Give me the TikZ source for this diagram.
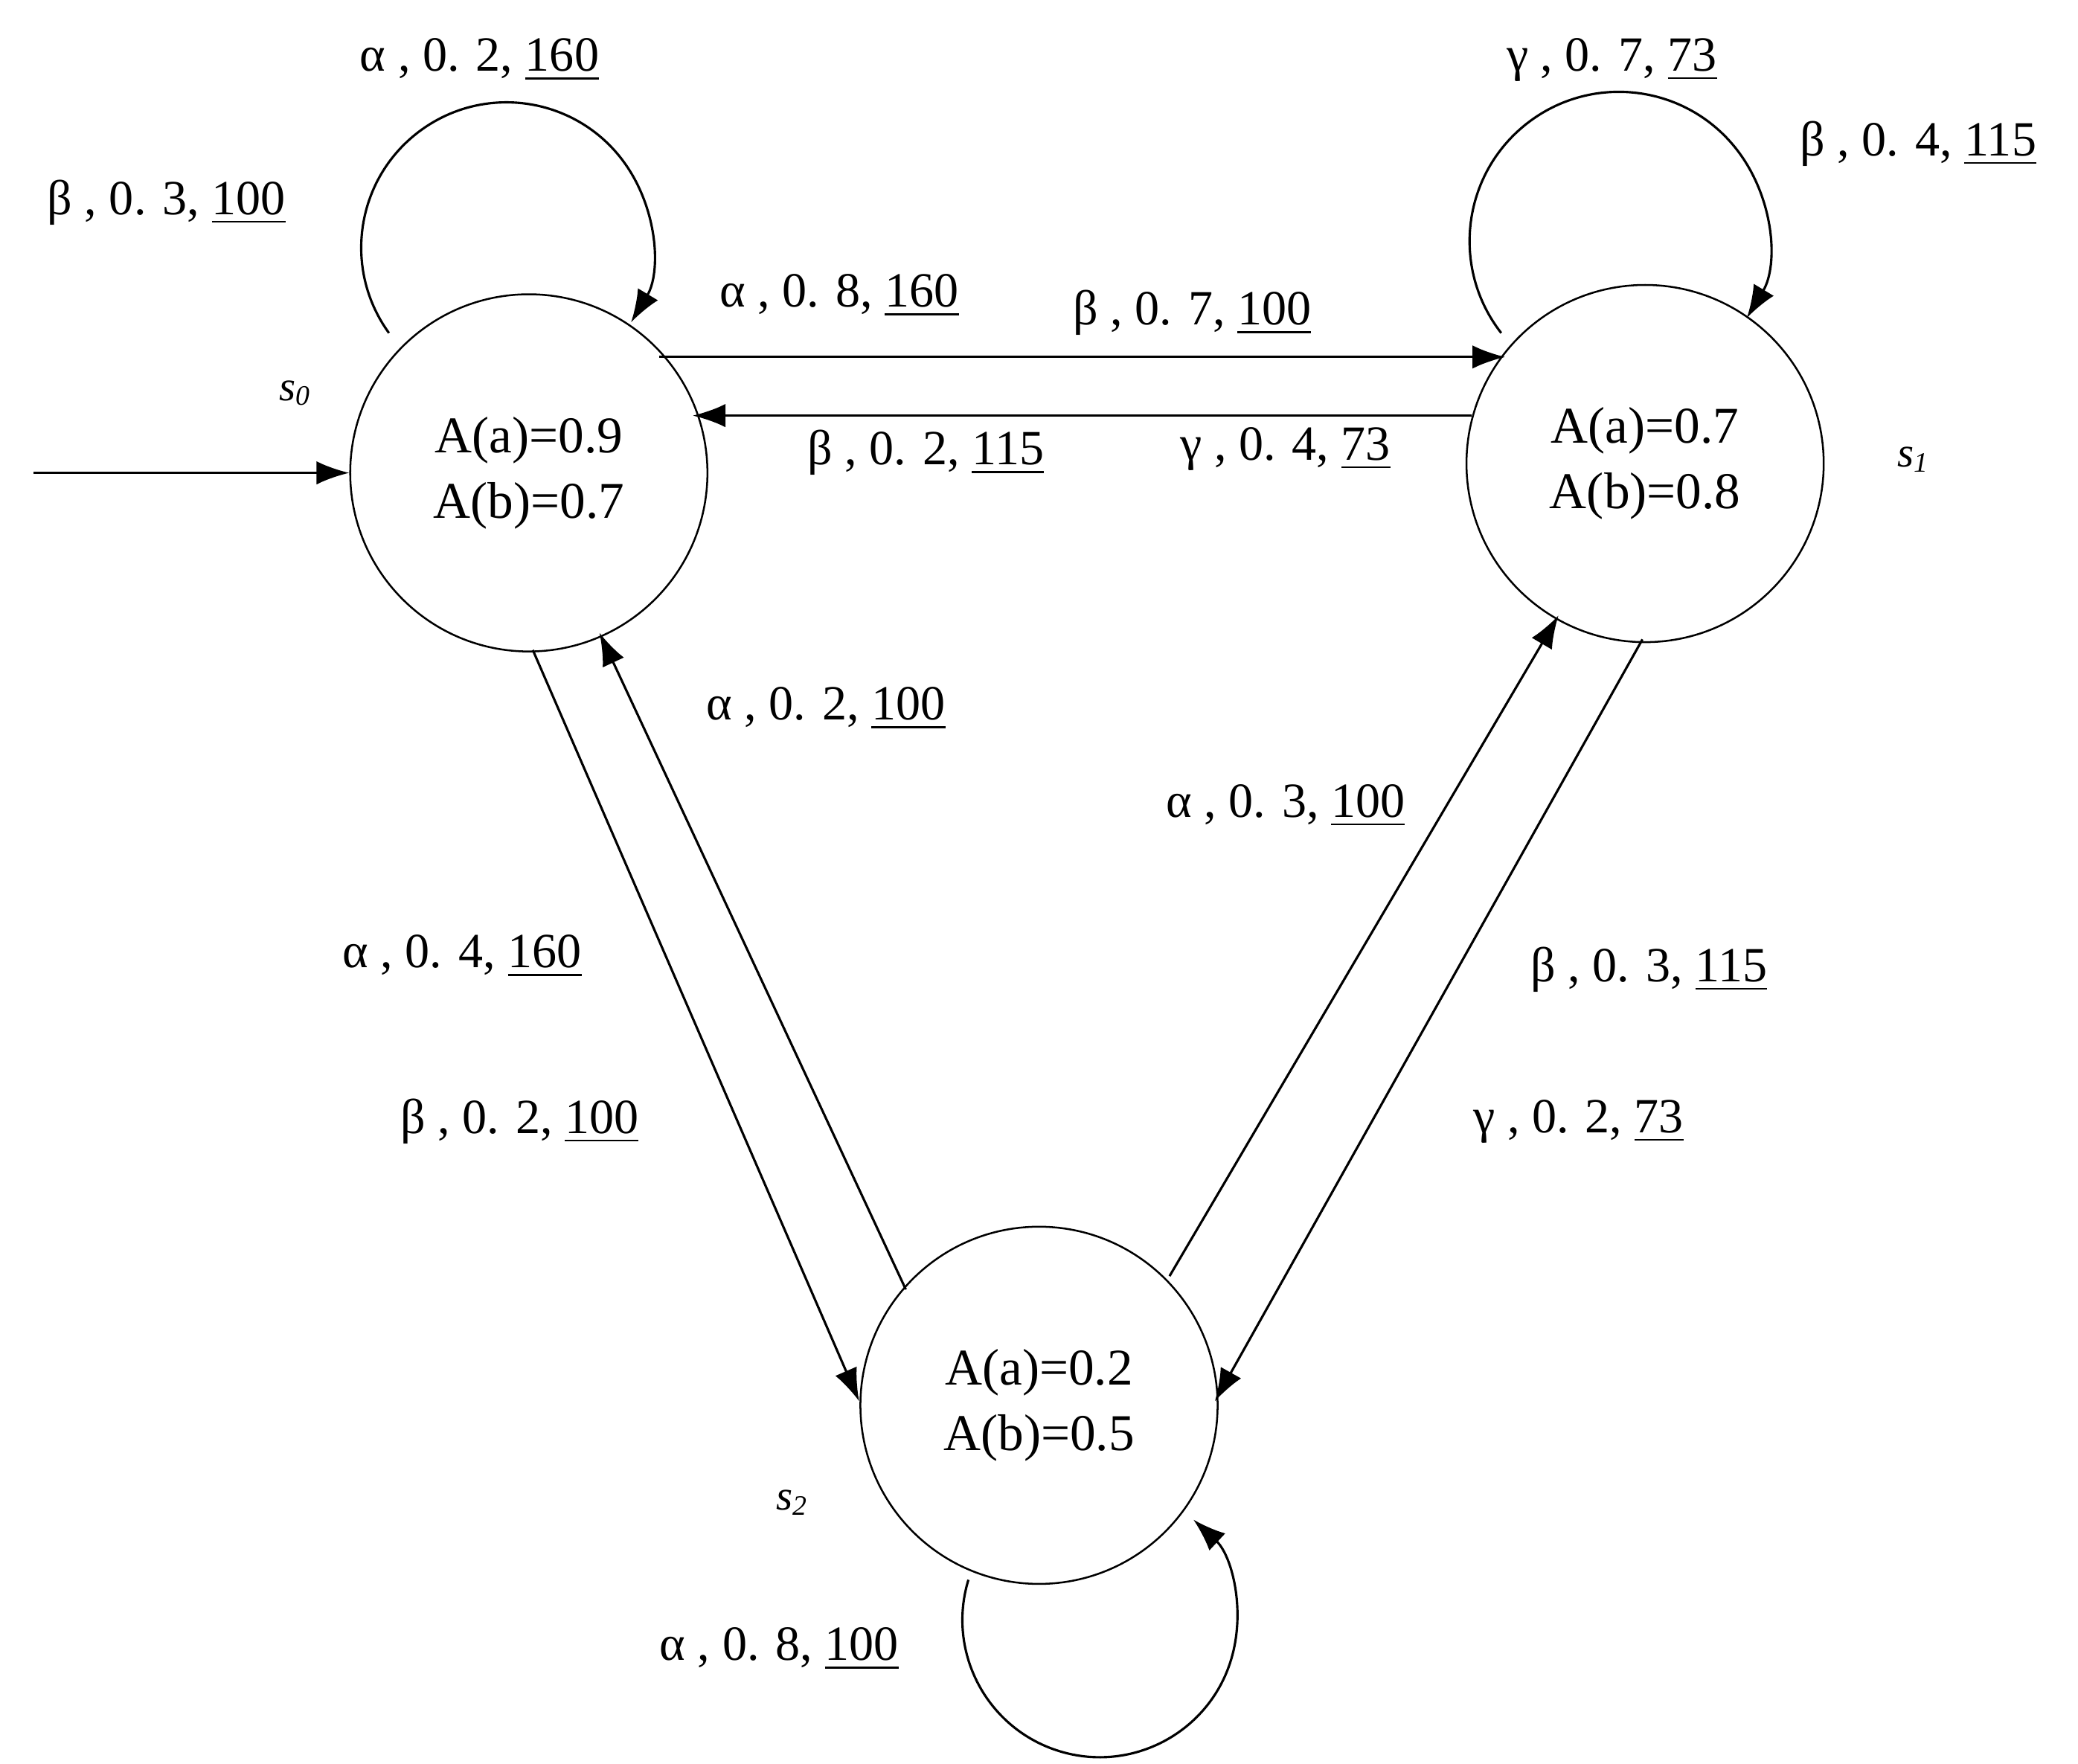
\documentclass[tikz,border=0pt]{standalone}
\usepackage{fontspec}
\setmainfont{Liberation Serif}
\usetikzlibrary{arrows.meta}
\begin{document}
\begin{tikzpicture}[x=0.01cm,y=-0.01cm,
  st/.style={draw,circle,minimum size=2.68cm,inner sep=0pt,align=center,font=\fontsize{11}{14}\selectfont},
  lb/.style={font=\fontsize{10.5}{12}\selectfont,inner sep=1pt},
  sl/.style={font=\itshape\fontsize{9}{10}\selectfont},
  ar/.style={-{Latex[length=7pt,width=5pt]},line width=0.5pt}]
\useasboundingbox (0,0) rectangle (1560,1324);
\node[st] (s0) at (397,355) {A(a)=0.9\\A(b)=0.7};
\node[st] (s1) at (1235,348) {A(a)=0.7\\A(b)=0.8};
\node[st] (s2) at (780,1055) {A(a)=0.2\\A(b)=0.5};
\node[sl] (l0) at (222,295) {s\textsubscript{0}};
\node[sl] (l1) at (1437,345) {s\textsubscript{1}};
\node[sl] (l2) at (595,1128) {s\textsubscript{2}};
\coordinate (init) at (25,355);
\draw[ar] (init) -- (s0.west);
% loops
\draw[ar] (292,250) arc[start angle=216,end angle=-31,radius=1.09cm];
\draw[ar] (1127,250) arc[start angle=218,end angle=-31,radius=1.12cm];
\draw[ar] (727,1186) arc[start angle=163,end angle=407,radius=1.03cm];
% edges
\draw[ar] (495,268) -- (1130,268);
\draw[ar] (1105,312) -- (520,312);
\draw[ar] (400,488) -- (645,1052);
\draw[ar] (680,968) -- (450,475);
\draw[ar] (878,958) -- (1170,462);
\draw[ar] (1233,480) -- (912,1052);
% labels
\node[lb] (t1) at (360,45) {α , 0. 2, \underline{160}};
\node[lb] (t2) at (125,152) {β , 0. 3, \underline{100}};
\node[lb] (t3) at (1210,45) {γ , 0. 7, \underline{73}};
\node[lb] (t4) at (1440,108) {β , 0. 4, \underline{115}};
\node[lb] (t5) at (630,222) {α , 0. 8, \underline{160}};
\node[lb] (t6) at (895,235) {β , 0. 7, \underline{100}};
\node[lb] (t7) at (695,340) {β , 0. 2, \underline{115}};
\node[lb] (t8) at (965,337) {γ , 0. 4, \underline{73}};
\node[lb] (t9) at (620,532) {α , 0. 2, \underline{100}};
\node[lb] (t10) at (965,605) {α , 0. 3, \underline{100}};
\node[lb] (t11) at (347,718) {α , 0. 4, \underline{160}};
\node[lb] (t12) at (390,842) {β , 0. 2, \underline{100}};
\node[lb] (t13) at (1238,728) {β , 0. 3, \underline{115}};
\node[lb] (t14) at (1185,842) {γ , 0. 2, \underline{73}};
\node[lb] (t15) at (585,1238) {α , 0. 8, \underline{100}};
\end{tikzpicture}
\end{document}
